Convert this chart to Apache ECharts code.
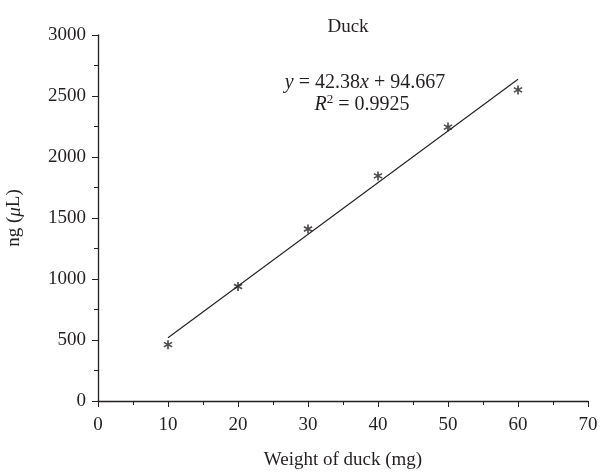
<!DOCTYPE html>
<html>
<head>
<meta charset="utf-8">
<script src="https://cdn.jsdelivr.net/npm/echarts@6/dist/echarts.min.js"></script>
<style>
  html, body { margin: 0; padding: 0; background: #fff; }
  #chart { width: 600px; height: 472px; }
</style>
</head>
<body>
<div id="chart"></div>
<script>
// measured points (weight in mg, ng)
const weights = [10, 20, 30, 40, 50, 60]
const amounts = [462, 938, 1410, 1845, 2245, 2550]
// fitted line end points
const fitX = [10, 60]
const fitY = [518, 2637]

const serif = '"Liberation Serif", "DejaVu Serif", serif'
const ink = '#231f20'
// six-armed asterisk made of three bars
const asterisk = 'path://M-1.8,-10L1.8,-10L1.8,10L-1.8,10Z' +
    'M7.76,-6.56L9.56,-3.44L-7.76,6.56L-9.56,3.44Z' +
    'M9.56,3.44L7.76,6.56L-9.56,-3.44L-7.76,-6.56Z'

const eqRich = {
    i: { fontFamily: serif, fontSize: 20, fontStyle: 'italic', fill: ink },
    sup: { fontFamily: serif, fontSize: 13, fill: ink, padding: [0, 0, 10, 0] }
}

const chart = echarts.init(document.getElementById('chart'))
chart.setOption({
    animation: false,
    backgroundColor: '#fff',
    title: {
        text: 'Duck',
        left: 343,
        textAlign: 'center',
        top: 13,
        textStyle: { fontFamily: serif, fontSize: 19, fontWeight: 'normal', color: ink }
    },
    grid: { left: 98, right: 12, top: 35, bottom: 71, outerBoundsMode: 'none', containLabel: false },
    xAxis: {
        type: 'value',
        min: 0, max: 70, interval: 10,
        name: 'Weight of duck (mg)',
        nameLocation: 'middle',
        nameGap: 50,
        nameTextStyle: { fontFamily: serif, fontSize: 19, color: ink },
        axisLine: { lineStyle: { color: ink, width: 1.3 } },
        axisTick: { show: true, inside: false, length: 6, lineStyle: { color: ink } },
        minorTick: { show: true, splitNumber: 2, length: 4, lineStyle: { color: ink } },
        axisLabel: { fontFamily: serif, fontSize: 19, color: ink, margin: 15 },
        splitLine: { show: false }
    },
    yAxis: {
        type: 'value',
        min: 0, max: 3000, interval: 500,
        name: '{a|ng (}{i|μ}{a|L)}',
        nameLocation: 'middle',
        nameRotate: 90,
        nameGap: 74,
        nameTextStyle: {
            rich: {
                a: { fontFamily: serif, fontSize: 19, color: ink },
                i: { fontFamily: serif, fontSize: 19, fontStyle: 'italic', color: ink }
            }
        },
        axisLine: { show: true, lineStyle: { color: ink, width: 1.3 } },
        axisTick: { show: true, inside: false, length: 6, lineStyle: { color: ink } },
        minorTick: { show: true, splitNumber: 2, length: 4, lineStyle: { color: ink } },
        axisLabel: { fontFamily: serif, fontSize: 19, color: ink, margin: 12, formatter: (v) => String(v) },
        splitLine: { show: false }
    },
    graphic: [
        {
            type: 'text',
            x: 365,
            y: 73,
            style: {
                text: '{i|y} = 42.38{i|x} + 94.667',
                align: 'center',
                rich: eqRich,
                font: '20px ' + serif,
                fill: ink
            }
        },
        {
            type: 'text',
            x: 362,
            y: 93,
            style: {
                text: '{i|R}{sup|2} = 0.9925',
                align: 'center',
                rich: eqRich,
                font: '20px ' + serif,
                fill: ink
            }
        }
    ],
    series: [
        {
            type: 'line',
            data: fitX.map((x, i) => [x, fitY[i]]),
            symbol: 'none',
            lineStyle: { color: ink, width: 1.1 },
            z: 2
        },
        {
            type: 'scatter',
            data: weights.map((x, i) => [x, amounts[i]]),
            symbol: asterisk,
            symbolSize: [9, 9],
            itemStyle: { color: ink },
            z: 3
        }
    ]
})
</script>
</body>
</html>
